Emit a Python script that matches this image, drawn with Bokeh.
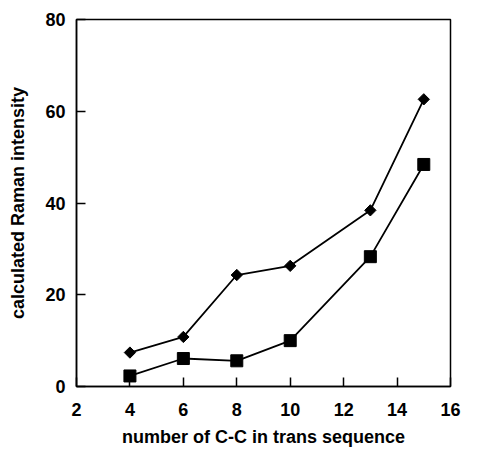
from bokeh.plotting import figure
from bokeh.models import FixedTicker, Range1d
from bokeh.embed import file_html
from bokeh.resources import INLINE

x_vals = [4, 6, 8, 10, 13, 15]
diamond_series = [7.4, 10.8, 24.3, 26.3, 38.4, 62.6]
square_series = [2.3, 6.1, 5.6, 10.0, 28.3, 48.4]
x_ticks = [2, 4, 6, 8, 10, 12, 14, 16]
y_ticks = [0, 20, 40, 60, 80]

FONT = "Liberation Sans"

p = figure(width=462, height=449, output_backend="svg", toolbar_location=None,
           x_range=Range1d(2, 16), y_range=Range1d(0, 80),
           min_border_left=76, min_border_right=12, min_border_top=19,
           min_border_bottom=60)

p.grid.visible = False
p.background_fill_color = "white"
p.border_fill_color = "white"
p.outline_line_color = "black"
p.outline_line_width = 1.5

p.line(x_vals, diamond_series, line_color="black", line_width=1.8)
p.scatter(x_vals, diamond_series, marker="square", angle=0.785398, size=8,
          fill_color="black", line_color="black")
p.line(x_vals, square_series, line_color="black", line_width=1.8)
p.scatter(x_vals, square_series, marker="square", size=12,
          fill_color="black", line_color="black")

for ax in (p.xaxis[0], p.yaxis[0]):
    ax.axis_line_width = 1.5
    ax.axis_line_color = "black"
    ax.major_tick_in = 9
    ax.major_tick_out = 0
    ax.major_tick_line_width = 1.5
    ax.minor_tick_in = 0
    ax.minor_tick_out = 0
    ax.major_label_text_font = FONT
    ax.major_label_text_font_style = "bold"
    ax.major_label_text_font_size = "18px"
    ax.major_label_text_color = "black"
    ax.axis_label_text_font = FONT
    ax.axis_label_text_font_style = "bold"
    ax.axis_label_text_font_size = "18px"
    ax.axis_label_text_color = "black"

p.xaxis[0].ticker = FixedTicker(ticks=x_ticks)
p.yaxis[0].ticker = FixedTicker(ticks=y_ticks)
p.xaxis[0].axis_label = "number of C-C in trans sequence"
p.yaxis[0].axis_label = "calculated Raman intensity"
p.xaxis[0].major_label_standoff = 16
p.yaxis[0].major_label_standoff = 11
p.xaxis[0].axis_label_standoff = 8
p.yaxis[0].axis_label_standoff = 14

open("out.html", "w").write(file_html(p, INLINE))
